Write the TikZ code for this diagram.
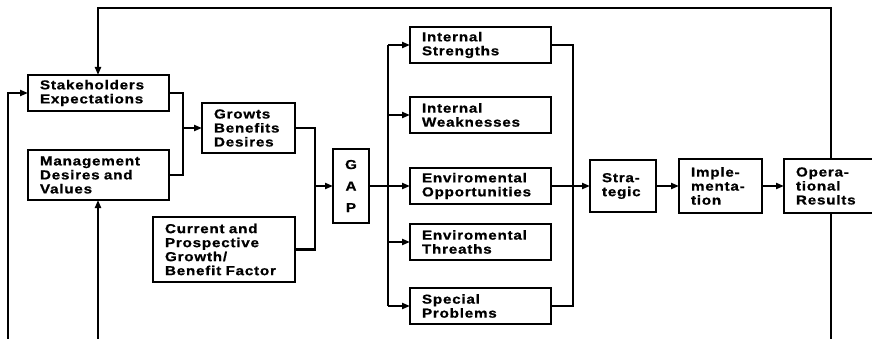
\documentclass[tikz,border=0pt]{standalone}
\usepackage{fontspec}
\newfontfamily\boxfont{Liberation Sans}[FakeStretch=1.17,LetterSpace=6,BoldFeatures={FakeBold=0.8}]
\usetikzlibrary{arrows.meta}
\begin{document}
\begin{tikzpicture}[x=1pt,y=-1pt,
  box/.style={draw, line width=2.8pt, anchor=north west, inner xsep=12pt,
    inner ysep=0pt, outer sep=0pt, align=left,
    font=\boxfont\bfseries\fontsize{13}{14}\selectfont},
  gapbox/.style={draw, line width=2.8pt, anchor=north west, inner sep=0pt,
    outer sep=0pt, align=center, minimum width=36pt, minimum height=74pt,
    font=\boxfont\bfseries\fontsize{13}{21.5}\selectfont},
  wire/.style={line width=2.4pt},
  arr/.style={wire, -{Triangle[length=8pt,width=6pt]}}]
\useasboundingbox (0,0) rectangle (872,339);
\clip (0,0) rectangle (872,339);

% planning inputs
\node[box, minimum width=141pt, minimum height=36pt, text width=117pt] (SE) at (28,75)
  {Stakeholders\\Expectations};
\node[box, minimum width=141pt, minimum height=50pt, text width=117pt] (MD) at (28,150)
  {Management\\Desires and\\Values};
\node[box, minimum width=93pt, minimum height=50pt, text width=69pt] (GB) at (202,103)
  {Growts\\Benefits\\Desires};
\node[box, minimum width=142pt, minimum height=65pt, text width=118pt] (CP) at (153,217)
  {Current and\\Prospective\\Growth/\\Benefit Factor};
\node[gapbox] (GAP) at (333,149) {G\\A\\P};

% situation analysis
\node[box, minimum width=141pt, minimum height=36pt, text width=117pt] (IS) at (410,27)
  {Internal\\Strengths};
\node[box, minimum width=141pt, minimum height=36pt, text width=117pt] (IW) at (410,97)
  {Internal\\Weaknesses};
\node[box, minimum width=141pt, minimum height=36pt, text width=117pt] (EO) at (410,168)
  {Enviromental\\Opportunities};
\node[box, minimum width=141pt, minimum height=36pt, text width=117pt] (ET) at (410,224)
  {Enviromental\\Threaths};
\node[box, minimum width=141pt, minimum height=36pt, text width=117pt] (SP) at (410,288)
  {Special\\Problems};

% planning stages
\node[box, minimum width=66pt, minimum height=52pt, text width=42pt] (ST) at (590,160)
  {Stra-\\tegic};
\node[box, minimum width=83pt, minimum height=54pt, text width=59pt] (IM) at (679,159)
  {Imple-\\menta-\\tion};
\node[box, minimum width=100pt, minimum height=54pt, text width=76pt] (OR) at (784,159)
  {Opera-\\tional\\Results};

% routing points
\coordinate (topL) at (98,8);
\coordinate (topR) at (831,8);
\coordinate (botR) at (831,345);
\coordinate (botA) at (8,345);
\coordinate (botB) at (98,345);
\coordinate (j1) at (183,0);
\coordinate (j2) at (315,0);
\coordinate (j3) at (388,0);
\coordinate (j4) at (573,0);

% feedback loops
\draw[arr] (OR.north -| topR) -- (topR) -- (topL) -- (SE.north -| topL);
\draw[wire] (OR.south -| botR) -- (botR);
\draw[arr] (botA) |- (SE.west);
\draw[arr] (botB) -- (MD.south -| botB);

% inputs to the gap
\draw[wire] (SE.east) -| (j1 |- MD.east) -- (MD.east);
\draw[arr] (j1 |- GB.west) -- (GB.west);
\draw[wire] (GB.east) -| (j2 |- CP.east) -- (CP.east);
\draw[arr] (j2 |- GAP.west) -- (GAP.west);

% gap to analysis
\draw[wire] (GAP.east) -- (j3 |- GAP.east);
\draw[wire] (j3 |- IS.west) -- (j3 |- SP.west);
\foreach \n in {IS,IW,EO,ET,SP} \draw[arr] (j3 |- \n.west) -- (\n.west);

% analysis to strategy
\draw[wire] (IS.east) -| (j4 |- SP.east) -- (SP.east);
\draw[wire] (EO.east) -- (j4 |- EO.east);
\draw[arr] (j4 |- ST.west) -- (ST.west);
\draw[arr] (ST.east) -- (IM.west);
\draw[arr] (IM.east) -- (OR.west);
\end{tikzpicture}
\end{document}
